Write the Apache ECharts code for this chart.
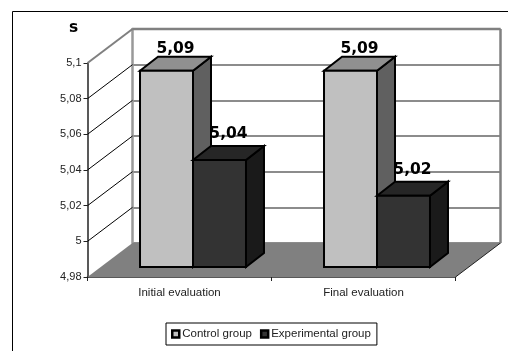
<!DOCTYPE html>
<html lang="en" style="height: 100%">
<head>
  <meta charset="utf-8">
</head>
<body style="height: 100%; margin: 0; background: #fff">
  <div id="container" style="height: 100%"></div>

  <script type="text/javascript" src="https://cdn.jsdelivr.net/npm/echarts@6/dist/echarts.min.js"></script>
  <script type="text/javascript">
    var categories = ['Initial evaluation', 'Final evaluation'];
    var controlValues = [5.09, 5.09];
    var experimentalValues = [5.04, 5.02];
    var valueTicks = [4.98, 5, 5.02, 5.04, 5.06, 5.08, 5.1];
    var seriesNames = ['Control group', 'Experimental group'];

    var axisMin = 4.98;
    var axisMax = 5.1;

    // pseudo 3d: wall is the front grid moved by this many pixels
    var WALL_DX = 45;
    var WALL_DY = -34;
    // bars stand this far behind the front plane, and are this deep
    var BAR_DX = 13.5;
    var BAR_DY = -10;
    var DEPTH_DX = 18;
    var DEPTH_DY = -14;

    function comma(v) {
      return String(v).replace('.', ',');
    }

    function poly(points, fill, stroke, width) {
      return {
        type: 'polygon',
        shape: { points: points },
        style: { fill: fill, stroke: stroke, lineWidth: width || 0, lineJoin: 'miter' }
      };
    }

    function line(x1, y1, x2, y2, color, width) {
      return {
        type: 'line',
        shape: { x1: x1, y1: y1, x2: x2, y2: y2 },
        style: { stroke: color, lineWidth: width }
      };
    }

    // floor, wall frame and diagonal lines, one item per tick
    function renderWalls(params, api) {
      var p = api.coord([0, api.value(1)]);
      var x = params.coordSys.x;
      var w = params.coordSys.width;
      var kids = [];
      if (api.value(1) === axisMin) {
        kids.push(poly([
          [x, p[1]], [x + w, p[1]],
          [x + w + WALL_DX, p[1] + WALL_DY], [x + WALL_DX, p[1] + WALL_DY]
        ], '#808080'));
        kids.push(line(x + w, p[1], x + w + WALL_DX, p[1] + WALL_DY, '#222', 1));
      } else if (api.value(1) === axisMax) {
        var backY = p[1] + WALL_DY;
        var floorY = api.coord([0, axisMin])[1] + WALL_DY;
        kids.push(line(x, p[1], x + WALL_DX, backY, '#808080', 2));
        kids.push(line(x + WALL_DX, backY, x + w + WALL_DX, backY, '#808080', 2.5));
        kids.push(line(x + w + WALL_DX, backY, x + w + WALL_DX, floorY, '#808080', 2.5));
      } else {
        kids.push(line(x, p[1], x + WALL_DX, p[1] + WALL_DY, '#000', 1));
      }
      return { type: 'group', children: kids };
    }

    function makeBarRenderer(seriesIndex, colors) {
      return function (params, api) {
        var top = api.coord([api.value(0), api.value(1)]);
        var base = api.coord([api.value(0), axisMin]);
        var barW = api.size([1, 0])[0] * 0.288;
        var x0 = top[0] + BAR_DX - barW + seriesIndex * barW;
        var x1 = x0 + barW;
        var y0 = top[1] + BAR_DY;
        var y1 = base[1] + BAR_DY;
        return {
          type: 'group',
          children: [
            poly([[x1, y0], [x1 + DEPTH_DX, y0 + DEPTH_DY], [x1 + DEPTH_DX, y1 + DEPTH_DY], [x1, y1]], colors[2], '#000', 2),
            poly([[x0, y0], [x0 + DEPTH_DX, y0 + DEPTH_DY], [x1 + DEPTH_DX, y0 + DEPTH_DY], [x1, y0]], colors[1], '#000', 2),
            poly([[x0, y0], [x1, y0], [x1, y1], [x0, y1]], colors[0], '#000', 2)
          ]
        };
      };
    }

    function makeLabelRenderer(seriesIndex, gap) {
      return function (params, api) {
        var top = api.coord([api.value(0), api.value(1)]);
        var barW = api.size([1, 0])[0] * 0.288;
        var x0 = top[0] + BAR_DX - barW + seriesIndex * barW;
        return {
          type: 'text',
          style: {
            x: x0 + barW / 2 + 9,
            y: top[1] + BAR_DY + DEPTH_DY - gap,
            text: comma(api.value(1)),
            align: 'center',
            verticalAlign: 'bottom',
            font: 'bold 15.5px "DejaVu Sans"',
            fill: '#000'
          }
        };
      };
    }

    function pairs(values) {
      return values.map(function (v, i) { return [i, v]; });
    }

    var dom = document.getElementById('container');
    var myChart = echarts.init(dom, null, { renderer: 'canvas' });

    var option = {
      animation: false,
      backgroundColor: '#fff',
      textStyle: { fontFamily: 'Liberation Sans' },
      grid: [
        { left: 87.5, top: 63, width: 368, height: 214 },
        { left: 87.5 + WALL_DX, top: 63 + WALL_DY, width: 368, height: 214 }
      ],
      xAxis: [
        {
          gridIndex: 0,
          type: 'category',
          data: categories,
          axisLine: { lineStyle: { color: '#222', width: 1.5 } },
          axisTick: { show: true, alignWithLabel: false, length: 4, lineStyle: { color: '#222' } },
          axisLabel: { color: '#222', fontSize: 11.5, margin: 10, fontFamily: 'Liberation Sans' }
        },
        {
          gridIndex: 1,
          type: 'category',
          data: categories,
          axisLine: { show: false },
          axisTick: { show: false },
          axisLabel: { show: false }
        }
      ],
      yAxis: [
        {
          gridIndex: 0,
          type: 'value',
          min: axisMin,
          max: axisMax,
          interval: 0.02,
          name: 's',
          nameLocation: 'end',
          nameGap: 27,
          nameRotate: 0,
          nameTextStyle: {
            fontWeight: 'bold', fontSize: 15.5, color: '#000',
            fontFamily: 'DejaVu Sans', padding: [0, 28, 0, 0]
          },
          splitLine: { show: false },
          axisLine: { show: true, lineStyle: { color: '#222', width: 1.5 } },
          axisTick: { show: true, length: 4, lineStyle: { color: '#222' } },
          axisLabel: { color: '#222', fontSize: 11, margin: 6, formatter: comma, fontFamily: 'Liberation Sans' }
        },
        {
          gridIndex: 1,
          type: 'value',
          min: axisMin,
          max: axisMax,
          interval: 0.02,
          axisLabel: { show: false },
          axisTick: { show: false },
          axisLine: { show: true, lineStyle: { color: '#999', width: 2.5 } },
          splitLine: { show: true, lineStyle: { color: '#666', width: 1.5 } }
        }
      ],
      legend: {
        left: 166,
        top: 323,
        padding: [5, 6, 5, 5],
        itemGap: 8,
        itemWidth: 7,
        itemHeight: 7,
        borderColor: '#000',
        borderWidth: 1,
        textStyle: { color: '#222', fontSize: 11.5, padding: [0, 0, 0, -2] },
        data: [
          { name: seriesNames[0], icon: 'rect', itemStyle: { color: '#c0c0c0', borderColor: '#000', borderWidth: 2.5 } },
          { name: seriesNames[1], icon: 'rect', itemStyle: { color: '#333333', borderColor: '#000', borderWidth: 2.5 } }
        ]
      },
      graphic: [
        {
          type: 'rect',
          silent: true,
          z: -1,
          shape: { x: 12.5, y: 11.5, width: 600, height: 500 },
          style: { fill: '#fff', stroke: '#000', lineWidth: 1 }
        }
      ],
      series: [
        {
          type: 'custom',
          xAxisIndex: 0,
          yAxisIndex: 0,
          z: 3,
          silent: true,
          clip: false,
          renderItem: renderWalls,
          data: valueTicks.map(function (v) { return [0, v]; })
        },
        {
          type: 'custom',
          xAxisIndex: 0,
          yAxisIndex: 0,
          z: 5,
          silent: true,
          clip: false,
          renderItem: makeLabelRenderer(0, 0),
          data: pairs(controlValues)
        },
        {
          type: 'custom',
          xAxisIndex: 0,
          yAxisIndex: 0,
          z: 5,
          silent: true,
          clip: false,
          renderItem: makeLabelRenderer(1, 4),
          data: pairs(experimentalValues)
        },
        {
          name: seriesNames[0],
          type: 'custom',
          xAxisIndex: 0,
          yAxisIndex: 0,
          z: 6,
          silent: true,
          clip: false,
          itemStyle: { color: '#c0c0c0' },
          renderItem: makeBarRenderer(0, ['#c0c0c0', '#909090', '#606060']),
          data: pairs(controlValues)
        },
        {
          name: seriesNames[1],
          type: 'custom',
          xAxisIndex: 0,
          yAxisIndex: 0,
          z: 7,
          silent: true,
          clip: false,
          itemStyle: { color: '#333333' },
          renderItem: makeBarRenderer(1, ['#333333', '#262626', '#1a1a1a']),
          data: pairs(experimentalValues)
        }
      ]
    };

    myChart.setOption(option);
    window.addEventListener('resize', myChart.resize);
  </script>
</body>
</html>
